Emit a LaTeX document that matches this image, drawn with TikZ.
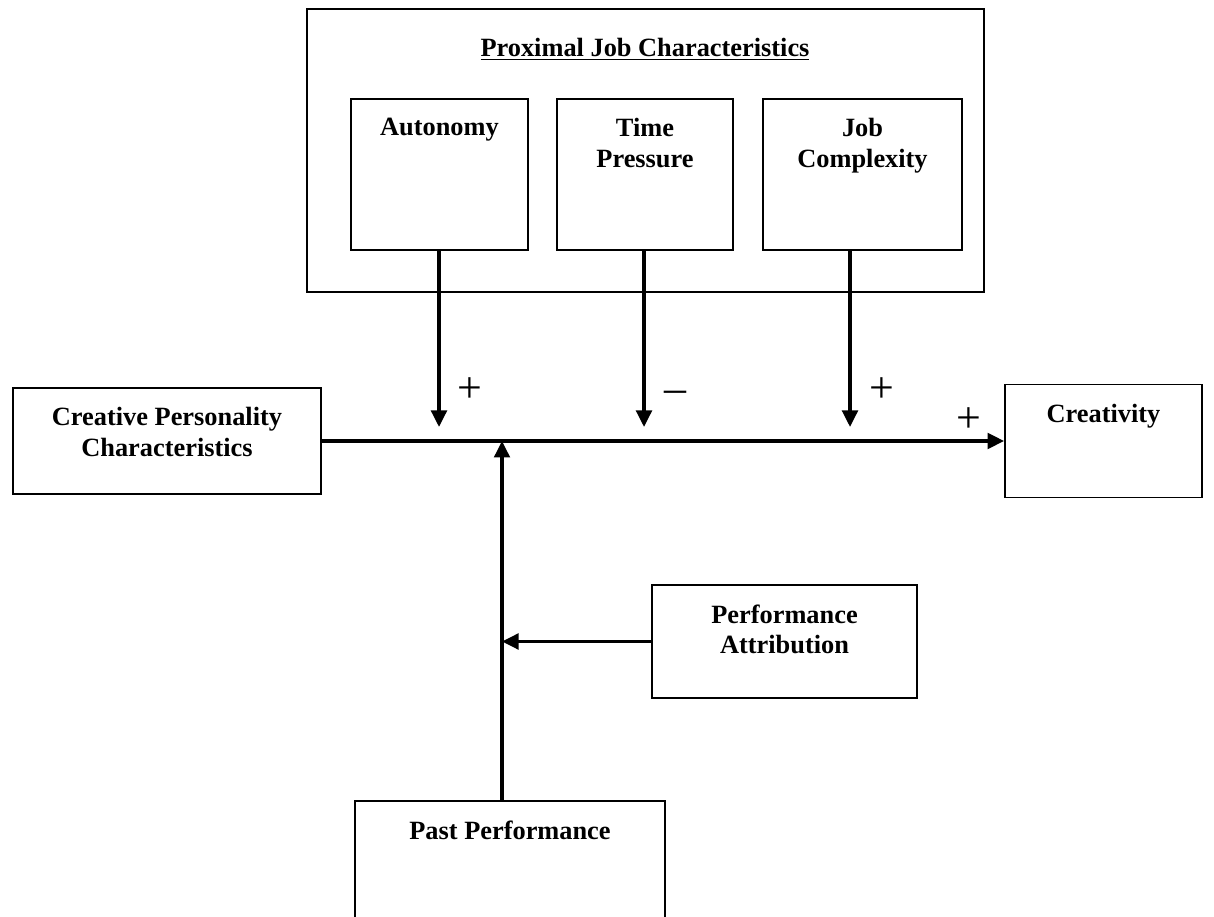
\documentclass[tikz,border=0pt]{standalone}
\usepackage{fontspec}
\setmainfont{Liberation Serif}
\usetikzlibrary{arrows.meta}
\tikzset{
  box/.style={draw, line width=1pt, inner sep=0pt},
  ltext/.style={anchor=north, yshift=-0.40cm, inner sep=0pt, align=center, font=\fontsize{15}{17.6}\selectfont\bfseries},
  sign/.style={inner sep=0pt, font=\fontsize{25}{25}\selectfont},
  flow/.style={-{Triangle[length=3.3mm, width=3.1mm]}, line width=2pt},
}

\begin{document}
\begin{tikzpicture}
    \path[use as bounding box, fill=white] (0,0) rectangle (24.28,18.34);
    % moderators
    \node[box, minimum width=13.54cm, minimum height=5.66cm] (prox) at (12.91,15.33) {};
    \node[font=\fontsize{15}{17.6}\selectfont\bfseries] (ptitle) at (12.90,17.36) {\underline{Proximal Job Characteristics}};
    \node[box, minimum width=3.54cm, minimum height=3.02cm, label={[ltext]north:Autonomy}] (auton) at (8.79,14.85) {};
    \node[box, minimum width=3.52cm, minimum height=3.02cm, label={[ltext]north:Time\\Pressure}] (tpress) at (12.90,14.85) {};
    \node[box, minimum width=3.98cm, minimum height=3.02cm, label={[ltext]north:Job\\Complexity}] (jcomp) at (17.25,14.85) {};
    % main path
    \node[box, minimum width=6.16cm, minimum height=2.12cm, label={[ltext]north:Creative Personality\\Characteristics}] (cpers) at (3.34,9.52) {};
    \node[box, minimum width=3.94cm, minimum height=2.26cm, label={[ltext]north:Creativity}] (creat) at (22.07,9.52) {};
    \node[box, minimum width=5.30cm, minimum height=2.26cm, label={[ltext]north:Performance\\Attribution}] (pattr) at (15.69,5.51) {};
    \node[box, minimum width=6.20cm, minimum height=2.78cm, label={[ltext]north:Past Performance}] (ppast) at (10.20,0.93) {};
    \coordinate (autoEnd) at (8.78,9.80);
    \coordinate (timeEnd) at (12.88,9.80);
    \coordinate (jobEnd) at (17.00,9.80);
    \coordinate (pastEnd) at (10.04,9.52);
    \draw[flow] (cpers.east) -- (creat.west);
    \draw[flow] (auton.south -| autoEnd) -- (autoEnd);
    \draw[flow] (tpress.south -| timeEnd) -- (timeEnd);
    \draw[flow] (jcomp.south -| jobEnd) -- (jobEnd);
    \draw[flow] (ppast.north -| pastEnd) -- (pastEnd);
    \draw[flow] (pattr.west) -- (pattr.west -| pastEnd);
    \node[sign] (s1) at (9.40,10.54) {+};
    \node[sign] (s2) at (13.50,10.40) {–};
    \node[sign] (s3) at (17.64,10.54) {+};
    \node[sign] (s4) at (19.38,9.94) {+};
\end{tikzpicture}
\end{document}
